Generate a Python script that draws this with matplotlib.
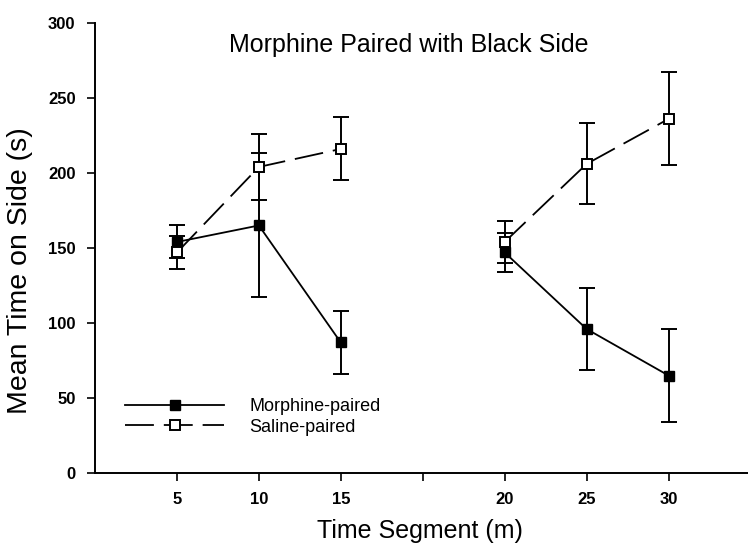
import matplotlib
matplotlib.use('Agg')
import matplotlib.pyplot as plt
from matplotlib.lines import Line2D

plt.rcParams['font.family'] = ['Liberation Sans', 'DejaVu Sans']

# data
tick_labels = ['5', '10', '15', '', '20', '25', '30']
minutes = ['5', '10', '15', '20', '25', '30']
morphine_mean = [154, 165, 87, 147, 96, 65]
morphine_err = [11, 48, 21, 13, 27, 31]
saline_mean = [147, 204, 216, 154, 206, 236]
saline_err = [11, 22, 21, 14, 27, 31]
y_ticks = [0, 50, 100, 150, 200, 250, 300]

xpos = [tick_labels.index(m) + 1 for m in minutes]

fig = plt.figure(figsize=(7.48, 5.55), dpi=100)
ax = fig.add_axes([0.127, 0.1477, 0.873, 0.811])

dash = (0, (16, 5.5))
for seg in (slice(0, 3), slice(3, 6)):
    ax.errorbar(xpos[seg], morphine_mean[seg], yerr=morphine_err[seg],
                color='black', lw=1.3, elinewidth=1.4, capsize=5.5, capthick=1.4,
                marker='s', ms=7.5, mfc='black', mec='black', zorder=3)
    ax.errorbar(xpos[seg], saline_mean[seg], yerr=saline_err[seg],
                color='black', lw=1.3, ls=dash, elinewidth=1.4, capsize=5.5, capthick=1.4,
                marker='s', ms=7.5, mfc='white', mec='black', mew=1.4, zorder=4)

ax.set_xlim(0, 7.97)
ax.set_ylim(0, 300)
ax.set_xticks(range(1, 8))
ax.set_xticklabels(tick_labels)
ax.set_yticks(y_ticks)
ax.tick_params(direction='out', length=6, width=1.2, labelsize=12, pad=8)
for lab in ax.get_xticklabels() + ax.get_yticklabels():
    lab.set_fontweight('bold')
for s in ('top', 'right'):
    ax.spines[s].set_visible(False)
for s in ('left', 'bottom'):
    ax.spines[s].set_linewidth(1.4)

ax.set_xlabel('Time Segment (m)', fontsize=18, va='center')
ax.xaxis.set_label_coords(0.498, -0.129)
ax.set_ylabel('Mean Time on Side (s)', fontsize=20.5, va='center')
ax.yaxis.set_label_coords(-0.115, 0.45)

fig.text(409 / 748, 1 - 45 / 555, 'Morphine Paired with Black Side',
         fontsize=18, ha='center', va='center')

handles = [
    Line2D([], [], color='black', lw=1.3, marker='s', ms=7.5, mfc='black'),
    Line2D([], [], color='black', lw=1.3, ls=dash, marker='s', ms=7.5,
           mfc='white', mew=1.4),
]
ax.legend(handles, ['Morphine-paired', 'Saline-paired'], loc='upper left',
          bbox_to_anchor=(125 / 748, 1 - 398 / 555), bbox_transform=fig.transFigure,
          frameon=False, fontsize=13, handlelength=5.5, handletextpad=1.4,
          labelspacing=0.2, borderpad=0, borderaxespad=0, numpoints=1)

fig.savefig('out.png', dpi=100)
